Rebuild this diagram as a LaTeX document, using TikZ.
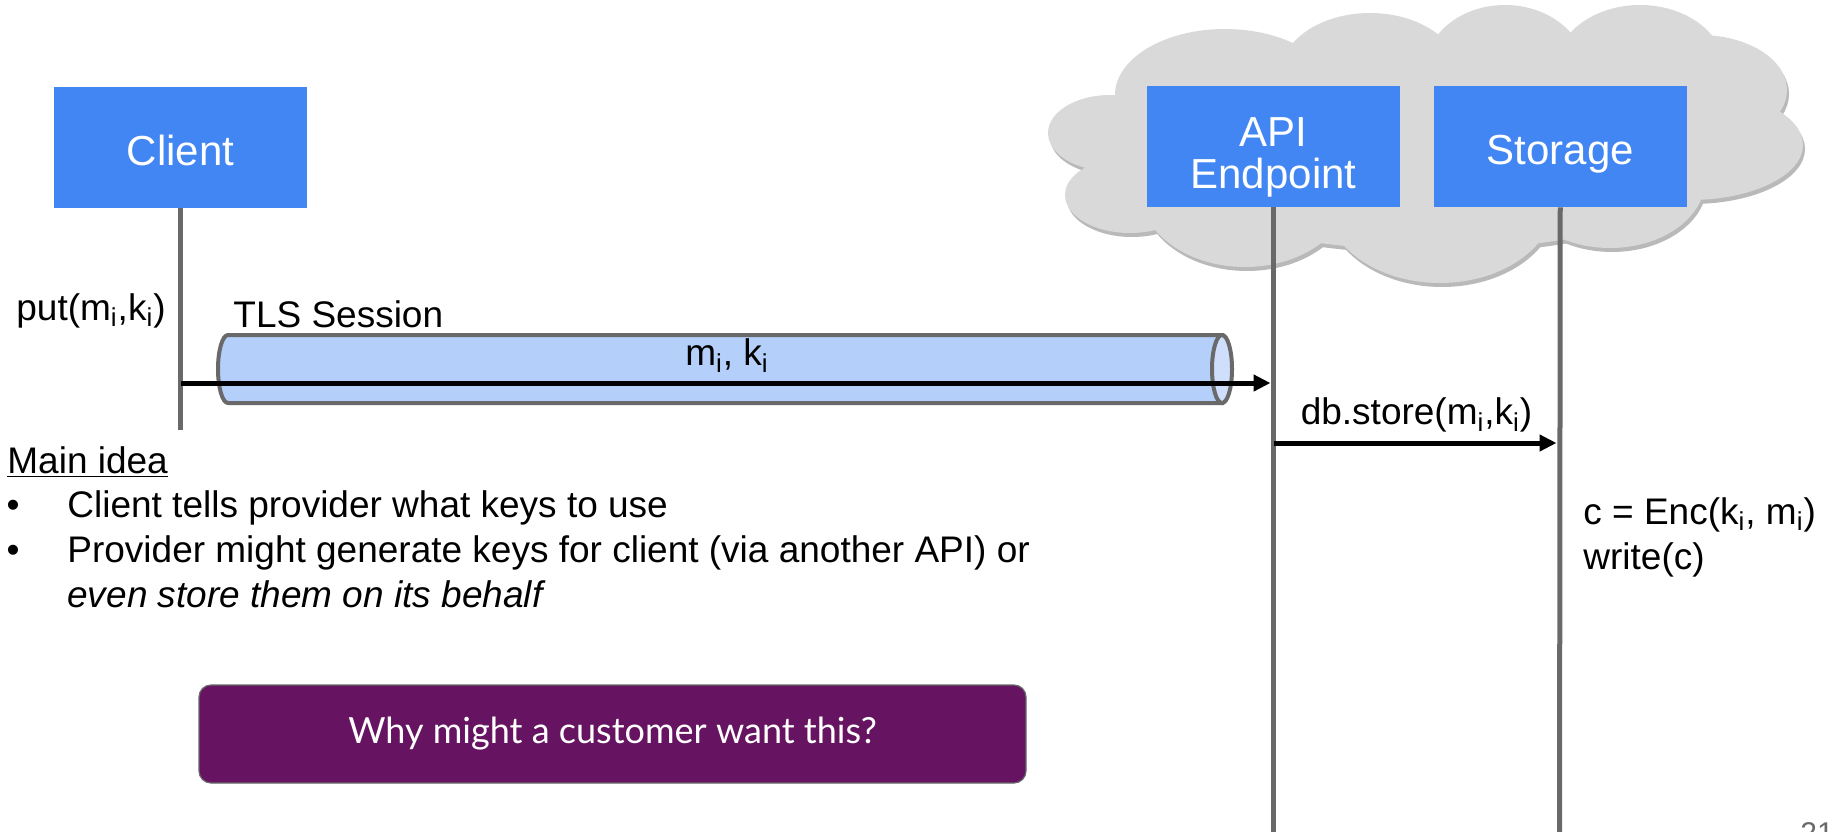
\documentclass[tikz,border=0pt]{standalone}
\usepackage{fontspec}
\setmainfont{Liberation Sans}
\newfontfamily\askfont{Lato}
\usetikzlibrary{arrows.meta,positioning}
\definecolor{boxblue}{RGB}{66,134,244}
\definecolor{lifegray}{RGB}{105,105,105}
\definecolor{cloudgray}{RGB}{217,217,217}
\definecolor{cloudshade}{RGB}{185,185,185}
\definecolor{tubeblue}{RGB}{179,207,250}
\definecolor{tubecap}{RGB}{207,223,251}
\definecolor{askpurple}{RGB}{102,20,98}
\newcommand{\idx}{\textsubscript{i}}

\begin{document}
\begin{tikzpicture}[
  x=0.5pt, y=-0.5pt,
  font=\fontsize{18.5}{22.5}\selectfont,
  actor/.style={fill=boxblue, text=white, inner sep=0pt, minimum width=126.5pt, minimum height=60.5pt, align=center, text height=17.5pt, text depth=0pt, font=\fontsize{21}{21}\selectfont},
  lifeline/.style={draw=lifegray, line width=2.5pt},
  msg/.style={-{Triangle[length=8.5pt,width=8pt]}, line width=2.5pt, shorten >=1.5pt},
  msglabel/.style={inner sep=0pt, above=4pt},
  txt/.style={inner sep=0pt, anchor=base west},
  tube/.style={draw=lifegray, line width=2pt, fill=tubeblue},
  puff/.style={fill=cloudgray},
  ask/.style={draw=lifegray, line width=0.6pt, fill=askpurple, text=white, rounded corners=6pt, minimum width=413.5pt, minimum height=49pt, font=\askfont\fontsize{18}{22}\selectfont}
]

\useasboundingbox (0,0) rectangle (1835,831);

% provider cloud, built from overlapping puffs (shadow first)
\foreach \cx/\cy/\rx/\ry in {1110/133/62/38, 1130/195/65/38, 1225/95/110/66, 1370/75/90/62,
    1505/70/80/65, 1640/70/85/65, 1700/90/87/55, 1690/145/113/55, 1610/180/95/68,
    1440/200/115/83, 1245/190/105/77, 1430/150/300/100}
  \fill[cloudshade] (\cx+2,\cy+4) ellipse [x radius=\rx, y radius=\ry];
\foreach \cx/\cy/\rx/\ry in {1110/133/62/38, 1130/195/65/38, 1225/95/110/66, 1370/75/90/62,
    1505/70/80/65, 1640/70/85/65, 1700/90/87/55, 1690/145/113/55, 1610/180/95/68,
    1440/200/115/83, 1245/190/105/77, 1430/150/300/100}
  \fill[puff] (\cx,\cy) ellipse [x radius=\rx, y radius=\ry];

\node[actor] (client) at (180.5,147.5) {Client};
\node[actor, text height=41.5pt] (api) at (1273.5,146.5) {API\\Endpoint};
\node[actor, right=16.5pt of api] (storage) {Storage};

\coordinate (clientend) at (180.5,430);
\coordinate (apiend) at (1273.5,840);
\coordinate (storageend) at (1559.5,840);
\draw[lifeline] (client) -- (clientend);
\draw[lifeline] (api) -- (apiend);
\draw[lifeline] (storage) -- (storageend);

% the TLS tunnel: body with rounded back end, then the open front end
\filldraw[tube] (1222,335) -- (228,335) arc[start angle=-90, end angle=-270, x radius=10, y radius=34] -- (1222,403) -- cycle;
\filldraw[tube, fill=tubecap] (1222,369) ellipse [x radius=10, y radius=34];
\node[txt] (tlslabel) at (233,327) {TLS Session};
\node[txt, anchor=base east] (putcall) at (166,320) {put(m\idx,k\idx)};

\coordinate (sendpt) at (180.5,383);
\coordinate (recvpt) at (1273.5,383);
\draw[msg] (sendpt) -- node[msglabel] {m\idx, k\idx} (recvpt);

\coordinate (storefrom) at (1273.5,443);
\coordinate (storeto) at (1559.5,443);
\draw[msg] (storefrom) -- node[msglabel] {db.store(m\idx,k\idx)} (storeto);

\node[txt, align=left] (encstep) at (1583,569) {c = Enc(k\idx, m\idx)\\write(c)};

\node[txt] (idea) at (7,473) {\underline{Main idea}};
\node[inner sep=0pt, anchor=base] (dot1) at (13,517) {\textbullet};
\node[txt] (point1) at (67,517) {Client tells provider what keys to use};
\node[inner sep=0pt, anchor=base] (dot2) at (13,562) {\textbullet};
\node[txt, align=left] (point2) at (67,607) {Provider might generate keys for client (via another API) or\\\textit{even store them on its behalf}};

\node[ask] (why) at (612.5,734) {Why might a customer want this?};

\node[txt, text=lifegray, font=\fontsize{15}{18}\selectfont] (slideno) at (1800,843) {21};

\end{tikzpicture}
\end{document}
